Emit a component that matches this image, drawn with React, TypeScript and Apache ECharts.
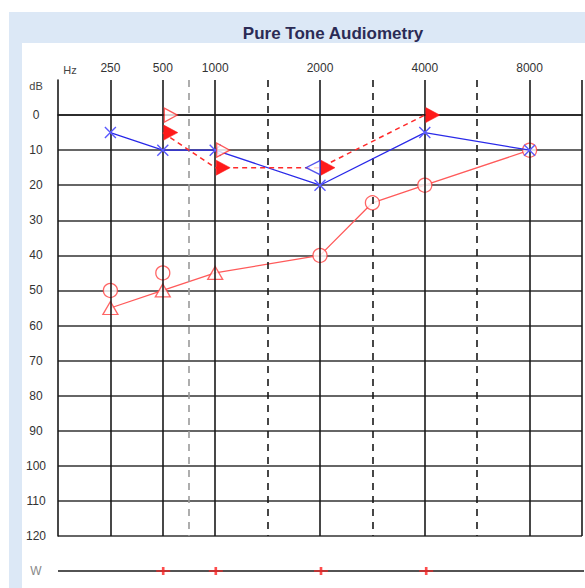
import React, { useEffect, useRef } from "react";
import * as echarts from "echarts";

// Frequency scale of the audiogram (half-octave slots below 1000 Hz)
const FREQS = [250, 500, 750, 1000, 1500, 2000, 3000, 4000, 6000, 8000];
const FREQ_SLOT = [1, 2, 2.5, 3, 4, 5, 6, 7, 8, 9];
const LABELED_FREQS = [250, 500, 1000, 2000, 4000, 8000];
const DASHED_FREQS = [750, 1500, 3000, 6000];
const DB_TICKS = [0, 10, 20, 30, 40, 50, 60, 70, 80, 90, 100, 110, 120];

// Left ear air conduction (blue X)
const LEFT_AIR_FREQ = [250, 500, 1000, 2000, 4000, 8000];
const LEFT_AIR_DB = [5, 10, 10, 20, 5, 10];
// Left ear bone conduction (blue open <)
const LEFT_BONE_FREQ = [2000];
const LEFT_BONE_DB = [15];
// Right ear air conduction unmasked (red O)
const RIGHT_AIR_FREQ = [250, 500, 2000, 3000, 4000, 8000];
const RIGHT_AIR_DB = [50, 45, 40, 25, 20, 10];
// Right ear air conduction masked (red triangle)
const RIGHT_AIR_MASKED_FREQ = [250, 500, 1000];
const RIGHT_AIR_MASKED_DB = [55, 50, 45];
// Right ear bone conduction unmasked (red open >)
const RIGHT_BONE_FREQ = [500, 1000];
const RIGHT_BONE_DB = [0, 10];
// Right ear bone conduction masked (red filled >)
const RIGHT_BONE_MASKED_FREQ = [500, 1000, 2000, 4000];
const RIGHT_BONE_MASKED_DB = [5, 15, 15, 0];
// Weber row marks
const W_FREQ = [500, 1000, 2000, 4000];

const slot = (f: number) => FREQ_SLOT[FREQS.indexOf(f)];
const pairs = (fs: number[], ds: number[]) => fs.map((f, i) => [slot(f), ds[i]]);

const X_SYM = "path://M0,0L10,10M10,0L0,10";
const RIGHT_TRI = "path://M0,0L12,7L0,14Z";
const LEFT_TRI = "path://M12,0L0,7L12,14Z";
const PLUS_SYM = "path://M0,4L14,4M7,0L7,8";
const FONT = "Liberation Sans, Arial, sans-serif";

export default function App() {
  const ref = useRef<HTMLDivElement>(null);

  useEffect(() => {
    if (!ref.current) return;
    const chart = echarts.init(ref.current, undefined, { renderer: "svg" });

    // Right air line: masked value preferred, else unmasked
    const rightLine: number[][] = [];
    FREQS.forEach((f) => {
      const mi = RIGHT_AIR_MASKED_FREQ.indexOf(f);
      const ui = RIGHT_AIR_FREQ.indexOf(f);
      if (mi >= 0) rightLine.push([slot(f), RIGHT_AIR_MASKED_DB[mi]]);
      else if (ui >= 0) rightLine.push([slot(f), RIGHT_AIR_DB[ui]]);
    });

    const vLines: any[] = [];
    FREQS.forEach((f) => {
      const dashed = DASHED_FREQS.indexOf(f) >= 0;
      vLines.push({
        xAxis: slot(f),
        lineStyle: {
          color: f === 750 ? "#9a9a9a" : "#1a1a1a",
          width: 1.6,
          type: dashed ? [7, 6] : "solid",
        },
      });
    });
    vLines.push({ xAxis: 10, lineStyle: { color: "#1a1a1a", width: 1.6, type: "solid" } });

    const option: any = {
      animation: false,
      graphic: [
        { type: "rect", shape: { x: 9, y: 12, width: 576, height: 576 }, style: { fill: "#dce8f6" }, z: -10 },
        { type: "rect", shape: { x: 22, y: 43, width: 563, height: 545 }, style: { fill: "#ffffff" }, z: -9 },
        {
          type: "text", x: 333, y: 33,
          style: { text: "Pure Tone Audiometry", font: `bold 17px ${FONT}`, fill: "#2b2b55", textAlign: "center", textVerticalAlign: "middle" },
        },
        {
          type: "text", x: 70, y: 70,
          style: { text: "Hz", font: `11px ${FONT}`, fill: "#444", textAlign: "center", textVerticalAlign: "middle" },
        },
        {
          type: "text", x: 36, y: 86,
          style: { text: "dB", font: `11px ${FONT}`, fill: "#444", textAlign: "center", textVerticalAlign: "middle" },
        },
      ],
      grid: [
        { left: 58, top: 80, right: 1, bottom: 52 },
        { left: 58, top: 561, right: 1, height: 20 },
      ],
      xAxis: [
        {
          gridIndex: 0, type: "value", position: "top", min: 0, max: 10, interval: 1,
          axisLine: { show: true, lineStyle: { color: "#1a1a1a", width: 1.6 } },
          axisTick: { show: false },
          splitLine: { show: false },
          axisLabel: {
            margin: 6, fontSize: 12, color: "#333", fontFamily: FONT,
            formatter: (v: number) => {
              const f = LABELED_FREQS.find((x) => slot(x) === v);
              return f ? String(f) : "";
            },
          },
        },
        { gridIndex: 1, type: "value", min: 0, max: 10, show: false },
      ],
      yAxis: [
        {
          gridIndex: 0, type: "value", inverse: true, min: -10, max: 120, interval: 10,
          axisLine: { show: true, lineStyle: { color: "#1a1a1a", width: 1.6 } },
          axisTick: { show: false },
          splitLine: { show: true, showMinLine: false, lineStyle: { color: "#333", width: 1.6 } },
          axisLabel: {
            margin: 22, align: "center", fontSize: 12, color: "#333", fontFamily: FONT,
            formatter: (v: number) => (DB_TICKS.indexOf(v) >= 0 ? String(v) : ""),
          },
        },
        {
          gridIndex: 1, type: "category", data: ["W"],
          axisLine: { show: false }, axisTick: { show: false }, splitLine: { show: false },
          axisLabel: { margin: 22, align: "center", fontSize: 12, color: "#888", fontFamily: FONT },
        },
      ],
      series: [
        {
          type: "line", xAxisIndex: 0, yAxisIndex: 0, data: [], silent: true,
          markLine: { symbol: "none", silent: true, label: { show: false }, data: vLines },
        },
        // Right air line (masked where available)
        {
          type: "line", data: rightLine, symbol: "none",
          lineStyle: { color: "#ff5a5a", width: 1.3 }, z: 3,
        },
        // Right air unmasked circles
        {
          type: "scatter", data: pairs(RIGHT_AIR_FREQ, RIGHT_AIR_DB), symbol: "circle", symbolSize: 14,
          itemStyle: { color: "#ffffff", borderColor: "#ff4040", borderWidth: 1.3 }, z: 4,
        },
        // Right air masked triangles
        {
          type: "scatter", data: pairs(RIGHT_AIR_MASKED_FREQ, RIGHT_AIR_MASKED_DB), symbol: "triangle", symbolSize: [15, 13],
          itemStyle: { color: "#ffffff", borderColor: "#ff4040", borderWidth: 1.3 }, z: 4,
        },
        // Left air line + X
        {
          type: "line", data: pairs(LEFT_AIR_FREQ, LEFT_AIR_DB), symbol: X_SYM, symbolSize: 11,
          lineStyle: { color: "#2a2ae8", width: 1.3 },
          itemStyle: { color: "transparent", borderColor: "#5a5aff", borderWidth: 1.4 }, z: 5,
        },
        // Right bone unmasked (open >)
        {
          type: "scatter", data: pairs(RIGHT_BONE_FREQ, RIGHT_BONE_DB), symbol: RIGHT_TRI, symbolSize: [13, 14],
          symbolOffset: [8, 0],
          itemStyle: { color: "#ffffff", borderColor: "#ff3030", borderWidth: 1.3 }, z: 6,
        },
        // Right bone masked (filled >) with dashed line
        {
          type: "line", data: pairs(RIGHT_BONE_MASKED_FREQ, RIGHT_BONE_MASKED_DB), symbol: RIGHT_TRI, symbolSize: [14, 15],
          symbolOffset: [8, 0],
          lineStyle: { color: "#ff2a2a", width: 1.5, type: [5, 4] },
          itemStyle: { color: "#ff1a1a", borderColor: "#ff1a1a", borderWidth: 0.5 }, z: 6,
        },
        // Left bone (open <)
        {
          type: "scatter", data: pairs(LEFT_BONE_FREQ, LEFT_BONE_DB), symbol: LEFT_TRI, symbolSize: [14, 14],
          symbolOffset: [-7, 0],
          itemStyle: { color: "#ffffff", borderColor: "#2a2ae8", borderWidth: 1.3 }, z: 6,
        },
        // Weber row
        {
          type: "line", xAxisIndex: 1, yAxisIndex: 1, data: [[0, "W"], [10, "W"]], symbol: "none",
          lineStyle: { color: "#1a1a1a", width: 1.5 }, silent: true,
        },
        {
          type: "scatter", xAxisIndex: 1, yAxisIndex: 1, data: W_FREQ.map((f) => [slot(f), "W"]),
          symbol: PLUS_SYM, symbolSize: [14, 8],
          itemStyle: { color: "transparent", borderColor: "#ff2020", borderWidth: 2 }, z: 5,
        },
      ],
    };
    chart.setOption(option);
    return () => chart.dispose();
  }, []);

  return (
    <div
      ref={ref}
      style={{ position: "fixed", left: 0, top: 0, width: 585, height: 588, background: "#ffffff" }}
    />
  );
}
